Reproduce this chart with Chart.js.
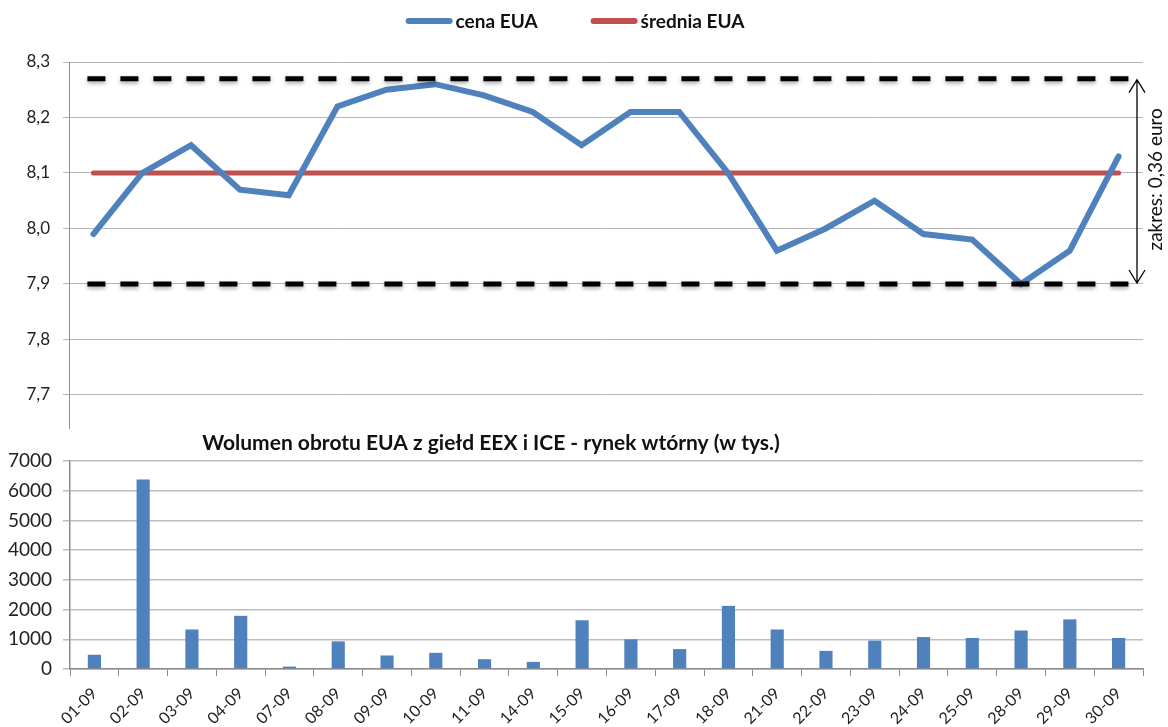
<!DOCTYPE html>
<html>
<head>
<meta charset="utf-8">
<script src="https://cdn.jsdelivr.net/npm/chart.js@4/dist/chart.umd.min.js"></script>
<style>
  html, body { margin: 0; padding: 0; background: #fff; }
  #wrap { position: relative; width: 1168px; height: 727px; overflow: hidden; }
  #priceChart { position: absolute; left: 0; top: 0; }
  #volumeChart { position: absolute; left: 0; top: 430px; background: #fff; }
</style>
</head>
<body>
<div id="wrap">
  <canvas id="priceChart" width="1168" height="452"></canvas>
  <canvas id="volumeChart" width="1168" height="297"></canvas>
</div>
<script>
// dni sesyjne (wrzesień)
const days = ["01-09", "02-09", "03-09", "04-09", "07-09", "08-09", "09-09", "10-09", "11-09", "14-09", "15-09",
  "16-09", "17-09", "18-09", "21-09", "22-09", "23-09", "24-09", "25-09", "28-09", "29-09", "30-09"];

// cena EUA
const cenaEUA = [7.99, 8.10, 8.15, 8.07, 8.06, 8.22, 8.25, 8.26, 8.24, 8.21, 8.15,
  8.21, 8.21, 8.10, 7.96, 8.00, 8.05, 7.99, 7.98, 7.90, 7.96, 8.13];

// średnia EUA
const sredniaEUA = [8.10, 8.10, 8.10, 8.10, 8.10, 8.10, 8.10, 8.10, 8.10, 8.10, 8.10,
  8.10, 8.10, 8.10, 8.10, 8.10, 8.10, 8.10, 8.10, 8.10, 8.10, 8.10];

// zakres cen
const rangeHigh = 8.27;
const rangeLow = 7.90;
const rangeLabel = "zakres: 0,36 euro";

const priceTicks = [7.7, 7.8, 7.9, 8.0, 8.1, 8.2, 8.3];

// wolumen w tys.
const wolumen = [480, 6380, 1330, 1790, 80, 930, 455, 545, 330, 240, 1640,
  1000, 670, 2125, 1330, 610, 955, 1075, 1045, 1295, 1670, 1045];

const volumeTicks = [0, 1000, 2000, 3000, 4000, 5000, 6000, 7000];
const volumeTitle = "Wolumen obrotu EUA z giełd EEX i ICE - rynek wtórny (w tys.)";

Chart.defaults.font.family = "Lato, 'Open Sans', sans-serif";
Chart.defaults.color = "#222";

const blue = "#4F81BD";
const red = "#C0504D";

// legenda rysowana ręcznie (krótki odstęp jak w Excelu)
const legendPlugin = {
  id: "excelLegend",
  afterDraw(chart) {
    const ctx = chart.ctx;
    const items = chart.data.datasets.filter((d) => d.inLegend);
    ctx.save();
    ctx.font = "bold 19px Lato";
    const sw = 47, gap = 3, itemGap = 53;
    let total = 0;
    items.forEach((d, i) => {
      total += sw + gap + ctx.measureText(d.label).width + (i < items.length - 1 ? itemGap : 0);
    });
    let x = 575 - total / 2;
    const y = 21;
    items.forEach((d) => {
      ctx.strokeStyle = d.borderColor;
      ctx.lineWidth = 6;
      ctx.lineCap = "round";
      ctx.beginPath();
      ctx.moveTo(x + 3, y);
      ctx.lineTo(x + sw - 3, y);
      ctx.stroke();
      ctx.fillStyle = "#111";
      ctx.textBaseline = "middle";
      ctx.textAlign = "left";
      ctx.fillText(d.label, x + sw + gap, y + 1);
      x += sw + gap + ctx.measureText(d.label).width + itemGap;
    });
    ctx.restore();
  },
};

// przerywane linie min/max + strzałka z opisem
const rangePlugin = {
  id: "rangeLines",
  afterDatasetsDraw(chart) {
    const ctx = chart.ctx;
    const xs = chart.scales.x;
    const ys = chart.scales.y;
    const x0 = xs.getPixelForValue(0) - 6;
    const x1 = xs.getPixelForValue(days.length - 1) + 11;
    const yHi = ys.getPixelForValue(rangeHigh);
    const yLo = ys.getPixelForValue(rangeLow);

    ctx.save();
    ctx.strokeStyle = "#000";
    ctx.lineWidth = 5;
    ctx.setLineDash([18, 15]);
    ctx.shadowColor = "rgba(0,0,0,0.35)";
    ctx.shadowBlur = 4;
    ctx.shadowOffsetY = 2;
    [yHi, yLo].forEach((y) => {
      ctx.beginPath();
      ctx.moveTo(x0, y);
      ctx.lineTo(x1, y);
      ctx.stroke();
    });
    ctx.restore();

    // strzałka
    const ax = chart.chartArea.right - 6;
    ctx.save();
    ctx.strokeStyle = "#000";
    ctx.lineWidth = 1.3;
    ctx.beginPath();
    ctx.moveTo(ax, yHi + 1);
    ctx.lineTo(ax, yLo - 1);
    ctx.moveTo(ax - 8, yHi + 14);
    ctx.lineTo(ax, yHi + 1);
    ctx.lineTo(ax + 8, yHi + 14);
    ctx.moveTo(ax - 8, yLo - 14);
    ctx.lineTo(ax, yLo - 1);
    ctx.lineTo(ax + 8, yLo - 14);
    ctx.stroke();

    ctx.translate(ax + 19, (yHi + yLo) / 2 - 2);
    ctx.rotate(-Math.PI / 2);
    ctx.font = "19px Lato";
    ctx.fillStyle = "#111";
    ctx.textAlign = "center";
    ctx.textBaseline = "middle";
    ctx.fillText(rangeLabel, 0, 0);
    ctx.restore();
  },
};

new Chart(document.getElementById("priceChart"), {
  type: "line",
  data: {
    labels: days,
    datasets: [
      {
        label: "cena EUA",
        data: cenaEUA,
        borderColor: blue,
        backgroundColor: blue,
        borderWidth: 6,
        pointRadius: 0,
        borderCapStyle: "round",
        borderJoinStyle: "miter",
        tension: 0,
        inLegend: true,
      },
      {
        label: "średnia EUA",
        data: sredniaEUA,
        borderColor: red,
        backgroundColor: red,
        borderWidth: 5,
        pointRadius: 0,
        borderCapStyle: "round",
        inLegend: true,
      },
    ],
  },
  options: {
    responsive: false,
    animation: false,
    layout: { padding: { top: 62, right: 25, bottom: 1, left: 0 } },
    plugins: {
      legend: { display: false },
      tooltip: { enabled: false },
    },
    scales: {
      x: {
        type: "category",
        display: false,
        offset: true,
      },
      y: {
        min: 7.639,
        max: 8.3,
        afterBuildTicks: (axis) => {
          axis.ticks = priceTicks.map((v) => ({ value: v }));
        },
        afterFit: (axis) => {
          axis.width = 69;
        },
        ticks: {
          font: { size: 17 },
          color: "#222",
          padding: 13,
          callback: (v) => Number(v).toFixed(1).replace(".", ","),
        },
        grid: { color: "#b5b5b5", lineWidth: 1, tickLength: 6 },
        border: { color: "#8c8c8c", width: 1 },
      },
    },
  },
  plugins: [rangePlugin, legendPlugin],
});

// tytuł wykresu wolumenu
const titlePlugin = {
  id: "volTitle",
  afterDraw(chart) {
    const ctx = chart.ctx;
    ctx.save();
    ctx.font = "bold 21px Lato";
    ctx.fillStyle = "#111";
    ctx.textAlign = "center";
    ctx.textBaseline = "middle";
    ctx.fillText(volumeTitle, 491, 13);
    ctx.restore();
  },
};

new Chart(document.getElementById("volumeChart"), {
  type: "bar",
  data: {
    labels: days,
    datasets: [
      {
        label: "wolumen",
        data: wolumen,
        backgroundColor: blue,
        barPercentage: 0.27,
        categoryPercentage: 1,
      },
    ],
  },
  options: {
    responsive: false,
    animation: false,
    layout: { padding: { top: 31, right: 25, bottom: 0, left: 0 } },
    plugins: {
      legend: { display: false },
      tooltip: { enabled: false },
    },
    scales: {
      x: {
        offset: true,
        afterFit: (axis) => {
          axis.height = 58;
        },
        ticks: {
          font: { size: 16 },
          color: "#222",
          maxRotation: 45,
          minRotation: 45,
          padding: 8,
          autoSkip: false,
        },
        grid: {
          drawOnChartArea: false,
          drawTicks: true,
          tickLength: 7,
          color: "#8c8c8c",
          offset: true,
        },
        border: { color: "#8c8c8c", width: 1.5 },
      },
      y: {
        min: 0,
        max: 7000,
        afterBuildTicks: (axis) => {
          axis.ticks = volumeTicks.map((v) => ({ value: v }));
        },
        afterFit: (axis) => {
          axis.width = 70;
        },
        ticks: {
          font: { size: 19 },
          color: "#222",
          padding: 11,
          callback: (v) => String(v),
        },
        grid: { color: "#bdbdbd", lineWidth: 1.5, tickLength: 7 },
        border: { color: "#8c8c8c", width: 1.5 },
      },
    },
  },
  plugins: [titlePlugin],
});
</script>
</body>
</html>
